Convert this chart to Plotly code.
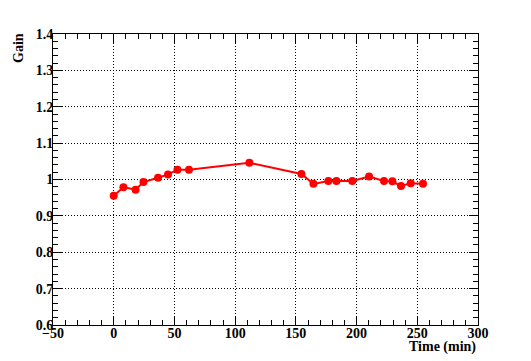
import plotly.graph_objects as go

time_min = [0, 8, 18, 24.5, 36.5, 44.7, 52.5, 62, 111.7, 154.6, 164.5, 176.8, 183.4, 196.5, 210.3, 222.6, 229.5, 236.6, 244.6, 254.7]
gain = [0.955, 0.979, 0.972, 0.993, 1.005, 1.014, 1.027, 1.027, 1.046, 1.015, 0.988, 0.996, 0.996, 0.996, 1.008, 0.996, 0.995, 0.982, 0.990, 0.988]

x_title = "Time (min)"
y_title = "Gain"

FONT = "Liberation Serif"

fig = go.Figure()
fig.add_trace(go.Scatter(
    x=time_min, y=gain, mode="lines+markers",
    line=dict(color="#ff0000", width=2),
    marker=dict(color="#ff0000", size=8),
    showlegend=False,
))

axis_common = dict(
    showline=True, linecolor="black", linewidth=1, mirror="ticks",
    ticks="inside", ticklen=9, tickwidth=1, tickcolor="black",
    showgrid=True, gridcolor="black", gridwidth=1, griddash="1px,2px",
    zeroline=False,
    tickfont=dict(family=FONT, size=14, color="black", weight="bold"),
)

fig.update_xaxes(
    range=[-50, 300], dtick=50, tick0=-50,
    minor=dict(dtick=10, ticks="inside", ticklen=5, tickcolor="black", showgrid=False),
    ticklabelstandoff=-5,
    **axis_common,
)
fig.update_yaxes(
    range=[0.6, 1.4], dtick=0.1, tick0=0.6,
    minor=dict(dtick=0.02, ticks="inside", ticklen=5, tickcolor="black", showgrid=False),
    tickformat="~g",
    ticklabelstandoff=-4,
    **axis_common,
)

fig.update_layout(
    width=523, height=353,
    margin=dict(l=45, r=53, t=26, b=36),
    paper_bgcolor="white", plot_bgcolor="white",
    font=dict(family=FONT, color="black"),
    annotations=[
        dict(text="<b>" + y_title + "</b>", xref="paper", yref="paper", x=0, y=0.952,
             xanchor="center", yanchor="middle", xshift=-34, textangle=-90,
             showarrow=False, font=dict(family=FONT, size=14, color="black")),
        dict(text="<b>" + x_title + "</b>", xref="paper", yref="paper", x=1, y=0,
             xanchor="right", yanchor="middle", yshift=-22,
             showarrow=False, font=dict(family=FONT, size=14, color="black")),
    ],
)

fig.write_html("out.html")
